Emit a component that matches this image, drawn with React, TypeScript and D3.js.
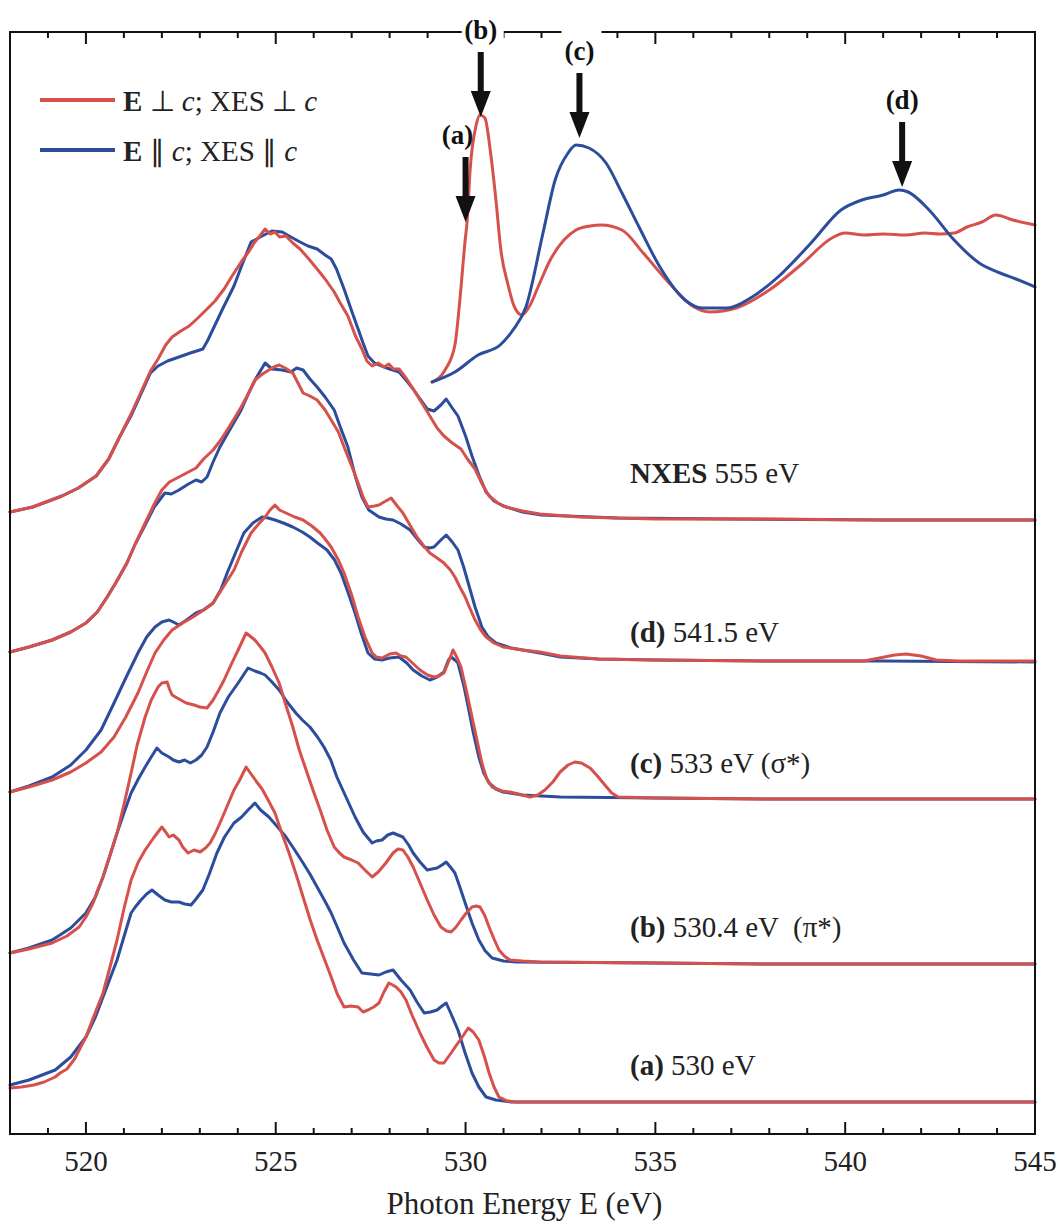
import React from "react";
import * as d3 from "d3";

type Pt = [number, number];

// Photon energy axis (eV)
const xDomain: [number, number] = [518, 545];
const majorTicks = [520, 525, 530, 535, 540, 545];
const minorTicks = d3.range(518, 546, 1);

// Vertical stacking offsets (arb. units) for each spectrum
const offsets = { xas: 749, nxes: 613, d: 472, c: 334, b: 169, a: 32 };

// XAS (absorption) spectra
const xasPerp: Pt[] = [
  [529.12, 3], [529.46, 15], [529.72, 40], [529.85, 85], [529.99, 145], [530.04, 163], [530.12, 215],
  [530.28, 260], [530.38, 270], [530.51, 267], [530.65, 235], [530.8, 185], [530.93, 135], [531.12, 100],
  [531.3, 77], [531.49, 70], [531.7, 80], [531.91, 98], [532.23, 125], [532.59, 145], [532.91, 155],
  [533.28, 159], [533.57, 160], [534.12, 155], [534.68, 132], [535.36, 102], [536.02, 78], [536.44, 73],
  [537.13, 77], [538.0, 95], [538.89, 122], [539.65, 147], [540.0, 152], [540.5, 150], [541.0, 151],
  [541.6, 150], [542.1, 152], [542.5, 151], [542.87, 152], [543.21, 158], [543.6, 163], [543.97, 170],
  [544.42, 165], [545.0, 160],
];
const xasPar: Pt[] = [
  [529.12, 3], [529.72, 13], [530.33, 30], [530.91, 40], [531.25, 55], [531.59, 78], [532.04, 152],
  [532.36, 205], [532.7, 232], [532.91, 240], [533.25, 237], [533.7, 222], [534.12, 192], [534.57, 158],
  [535.12, 118], [535.78, 85], [536.23, 77], [536.89, 77], [537.55, 88], [538.23, 108], [539.1, 142],
  [539.89, 175], [540.44, 185], [541.0, 190], [541.42, 195], [541.66, 193], [542.21, 175], [542.87, 145],
  [543.53, 122], [544.08, 112], [544.5, 106], [545.0, 98],
];

// Non-resonant emission, 555 eV
const nxesPerp: Pt[] = [
  [518.0, 9], [518.6, 14], [519.37, 25], [519.8, 33], [520.27, 45], [520.6, 62], [520.9, 85], [521.2, 108],
  [521.45, 129], [521.7, 150], [521.9, 162], [522.1, 176], [522.27, 184], [522.5, 190], [522.72, 195],
  [522.95, 203], [523.19, 212], [523.4, 220], [523.64, 232], [523.85, 245], [524.09, 259], [524.3, 270],
  [524.45, 279], [524.6, 286], [524.72, 292], [524.85, 287], [524.98, 289], [525.1, 284], [525.27, 285],
  [525.45, 278], [525.64, 272], [525.85, 263], [526.09, 252], [526.3, 242], [526.54, 229], [526.7, 218],
  [526.9, 205], [527.1, 185], [527.27, 172], [527.4, 160], [527.54, 155], [527.7, 158], [527.85, 154],
  [527.98, 157], [528.1, 152], [528.25, 152], [528.45, 142], [528.62, 132], [528.85, 118], [529.06, 105],
  [529.25, 93], [529.43, 85], [529.65, 78], [529.88, 72], [530.05, 62], [530.25, 52], [530.45, 36],
  [530.62, 25], [530.85, 18], [531.07, 14], [531.5, 10], [531.96, 7], [533, 4], [535, 2], [538, 2],
  [541, 1], [545, 1],
];
const nxesPar: Pt[] = [
  [518.0, 9], [518.6, 14], [519.37, 25], [519.8, 33], [520.27, 45], [520.6, 62], [520.9, 85], [521.2, 106],
  [521.45, 127], [521.7, 148], [521.9, 155], [522.15, 160], [522.45, 164], [522.75, 168], [523.08, 172],
  [523.2, 180], [523.35, 192], [523.6, 212], [523.9, 235], [524.1, 255], [524.35, 279], [524.5, 282],
  [524.64, 285], [524.9, 290], [525.17, 289], [525.4, 284], [525.64, 279], [525.85, 275], [526.09, 272],
  [526.3, 266], [526.46, 262], [526.6, 252], [526.8, 232], [527.0, 210], [527.17, 192], [527.3, 178],
  [527.43, 165], [527.6, 158], [527.8, 155], [528.0, 152], [528.25, 149], [528.45, 140], [528.62, 132],
  [528.8, 122], [528.99, 112], [529.17, 110], [529.35, 116], [529.49, 122], [529.65, 113], [529.8, 105],
  [530.0, 85], [530.17, 65], [530.35, 46], [530.54, 29], [530.75, 20], [530.99, 15], [531.5, 9], [532, 6],
  [534, 3], [537, 2], [541, 1], [545, 1],
];

// (d) excitation 541.5 eV
const dPerp: Pt[] = [
  [518.0, 10], [518.5, 15], [519.11, 22], [519.6, 30], [520.0, 39], [520.3, 50], [520.56, 65], [520.8, 80],
  [521.08, 99], [521.3, 118], [521.56, 139], [521.8, 158], [522.0, 172], [522.2, 180], [522.45, 185],
  [522.7, 190], [522.9, 194], [523.1, 203], [523.35, 212], [523.55, 222], [523.72, 232], [523.9, 243],
  [524.09, 255], [524.3, 270], [524.45, 282], [524.65, 288], [524.82, 292], [524.95, 295], [525.09, 297],
  [525.25, 294], [525.45, 289], [525.6, 278], [525.72, 269], [525.9, 266], [526.09, 262], [526.3, 252],
  [526.46, 242], [526.65, 230], [526.8, 215], [527.0, 196], [527.17, 179], [527.3, 165], [527.43, 155],
  [527.6, 156], [527.72, 157], [527.9, 161], [528.04, 164], [528.2, 156], [528.35, 149], [528.55, 136],
  [528.72, 125], [528.9, 116], [529.06, 109], [529.25, 104], [529.43, 99], [529.6, 92], [529.72, 85],
  [529.85, 75], [529.99, 65], [530.1, 55], [530.25, 42], [530.4, 32], [530.54, 25], [530.75, 19],
  [530.99, 15], [531.5, 12], [531.96, 10], [532.5, 6], [533.5, 3], [535, 2], [538, 1], [540.5, 1],
  [540.9, 4], [541.3, 7], [541.6, 8], [542.0, 6], [542.4, 2], [543, 1], [545, 1],
];
const dPar: Pt[] = [
  [518.0, 10], [518.5, 15], [519.11, 22], [519.6, 30], [520.0, 39], [520.3, 50], [520.56, 65], [520.8, 80],
  [521.08, 99], [521.3, 118], [521.56, 137], [521.8, 155], [522.08, 169], [522.25, 168], [522.45, 172],
  [522.7, 178], [522.9, 182], [523.05, 180], [523.19, 185], [523.35, 200], [523.53, 215], [523.8, 233],
  [524.09, 252], [524.3, 270], [524.5, 285], [524.72, 299], [524.9, 293], [525.17, 292], [525.4, 290],
  [525.55, 294], [525.72, 292], [525.9, 283], [526.09, 275], [526.3, 265], [526.54, 252], [526.7, 235],
  [526.9, 215], [527.1, 185], [527.27, 165], [527.45, 152], [527.72, 145], [527.9, 143], [528.09, 142],
  [528.3, 138], [528.54, 132], [528.75, 122], [528.91, 115], [529.05, 114], [529.17, 115], [529.35, 122],
  [529.49, 127], [529.65, 120], [529.8, 112], [529.95, 95], [530.07, 79], [530.25, 55], [530.43, 35],
  [530.6, 25], [530.8, 19], [531.2, 14], [531.96, 9], [532.5, 5], [533.5, 3], [535, 2], [538, 1],
  [541, 1], [545, 0],
];

// (c) excitation 533 eV (sigma*)
const cPerp: Pt[] = [
  [518.0, 8], [518.5, 13], [519.11, 20], [519.6, 28], [520.0, 37], [520.4, 48], [520.74, 63], [521.05, 83],
  [521.37, 107], [521.6, 128], [521.82, 147], [522.05, 160], [522.27, 170], [522.55, 177], [522.82, 183],
  [523.1, 190], [523.35, 197], [523.6, 212], [523.9, 230], [524.1, 248], [524.35, 267], [524.55, 276],
  [524.72, 283], [524.85, 290], [524.98, 295], [525.1, 290], [525.27, 287], [525.5, 283], [525.72, 280],
  [525.95, 274], [526.17, 267], [526.3, 261], [526.46, 253], [526.65, 240], [526.8, 227], [527.0, 205],
  [527.17, 183], [527.35, 163], [527.54, 147], [527.65, 143], [527.8, 142], [528.0, 146], [528.17, 147],
  [528.3, 144], [528.43, 143], [528.6, 137], [528.8, 130], [529.0, 125], [529.17, 123], [529.3, 124],
  [529.43, 127], [529.55, 138], [529.67, 150], [529.78, 142], [529.88, 133], [530.03, 108], [530.17, 83],
  [530.3, 60], [530.43, 37], [530.55, 22], [530.7, 13], [530.95, 9], [531.17, 8], [531.5, 5], [531.7, 3],
  [531.9, 5], [532.09, 10], [532.3, 18], [532.49, 28], [532.7, 35], [532.88, 38], [533.05, 37],
  [533.28, 32], [533.45, 25], [533.67, 15], [533.85, 7], [534.02, 3], [535, 2], [538, 1], [541, 1],
  [545, 1],
];
const cPar: Pt[] = [
  [518.0, 8], [518.5, 14], [519.11, 23], [519.6, 35], [520.0, 50], [520.4, 70], [520.74, 97], [521.05, 122],
  [521.37, 147], [521.6, 163], [521.82, 173], [522.0, 178], [522.19, 180], [522.3, 178], [522.45, 175],
  [522.65, 180], [522.9, 187], [523.1, 190], [523.35, 197], [523.55, 210], [523.72, 227], [523.95, 248],
  [524.16, 267], [524.4, 277], [524.64, 283], [524.8, 282], [524.98, 280], [525.2, 277], [525.45, 273],
  [525.7, 268], [525.9, 263], [526.1, 257], [526.35, 250], [526.55, 240], [526.72, 227], [526.9, 208],
  [527.09, 187], [527.25, 167], [527.43, 147], [527.6, 141], [527.8, 140], [528.0, 142], [528.25, 143],
  [528.45, 137], [528.62, 130], [528.85, 124], [529.06, 120], [529.25, 123], [529.43, 128], [529.55, 140],
  [529.62, 143], [529.72, 140], [529.8, 137], [529.95, 115], [530.07, 93], [530.2, 68], [530.35, 43],
  [530.48, 27], [530.62, 17], [530.8, 11], [530.99, 8], [531.5, 5], [532.5, 3], [535, 2], [538, 1],
  [541, 1], [545, 1],
];

// (b) excitation 530.4 eV (pi*)
const bPerp: Pt[] = [
  [518.0, 12], [518.5, 16], [519.11, 22], [519.5, 29], [519.82, 38], [520.0, 48], [520.19, 62], [520.3, 74],
  [520.45, 88], [520.62, 108], [520.82, 132], [521.0, 160], [521.19, 192], [521.35, 220], [521.56, 248],
  [521.72, 265], [521.9, 278], [522.0, 282], [522.14, 283], [522.2, 276], [522.27, 270], [522.45, 266],
  [522.64, 262], [522.85, 260], [523.0, 258], [523.19, 257], [523.35, 265], [523.5, 275], [523.64, 285],
  [523.82, 300], [524.01, 315], [524.12, 324], [524.22, 332], [524.32, 329], [524.45, 325], [524.6, 318],
  [524.72, 312], [524.9, 298], [525.09, 282], [525.25, 262], [525.45, 238], [525.62, 215], [525.8, 195],
  [525.98, 175], [526.17, 155], [526.35, 135], [526.54, 118], [526.68, 112], [526.8, 108], [527.0, 105],
  [527.17, 102], [527.35, 95], [527.54, 88], [527.7, 93], [527.9, 102], [528.09, 112], [528.22, 116],
  [528.35, 115], [528.48, 108], [528.62, 98], [528.8, 82], [528.99, 65], [529.17, 50], [529.35, 38],
  [529.5, 34], [529.62, 33], [529.75, 38], [529.88, 45], [530.02, 52], [530.17, 58], [530.28, 59],
  [530.38, 58], [530.5, 50], [530.62, 38], [530.75, 26], [530.88, 15], [531.02, 9], [531.17, 5],
  [531.5, 4], [531.96, 3], [535, 2], [538, 1], [541, 1], [545, 1],
];
const bPar: Pt[] = [
  [518.0, 12], [518.5, 17], [519.11, 25], [519.6, 37], [520.0, 52], [520.25, 68], [520.45, 88], [520.62, 108],
  [520.82, 132], [521.0, 152], [521.19, 172], [521.38, 186], [521.56, 198], [521.72, 208], [521.87, 217],
  [522.0, 212], [522.19, 208], [522.3, 205], [522.45, 203], [522.6, 205], [522.75, 202], [522.9, 205],
  [523.05, 210], [523.19, 218], [523.35, 233], [523.53, 252], [523.75, 268], [524.01, 282], [524.15, 290],
  [524.27, 297], [524.45, 294], [524.6, 292], [524.72, 290], [524.9, 283], [525.09, 275], [525.3, 263],
  [525.53, 252], [525.7, 245], [525.9, 238], [526.1, 228], [526.27, 218], [526.45, 205], [526.61, 188],
  [526.85, 168], [527.09, 148], [527.3, 133], [527.54, 122], [527.65, 124], [527.8, 125], [527.95, 130],
  [528.09, 132], [528.22, 130], [528.35, 128], [528.5, 120], [528.62, 112], [528.8, 103], [528.99, 95],
  [529.12, 96], [529.25, 97], [529.38, 100], [529.49, 103], [529.6, 98], [529.72, 92], [529.85, 78],
  [529.99, 62], [530.17, 42], [530.35, 25], [530.52, 14], [530.7, 7], [531.0, 4], [531.33, 3], [535, 2],
  [538, 1], [541, 1], [545, 1],
];

// (a) excitation 530 eV
const aPerp: Pt[] = [
  [518.0, 14], [518.3, 15], [518.63, 17], [518.9, 20], [519.19, 25], [519.32, 29], [519.5, 33], [519.7, 43],
  [520.0, 65], [520.2, 85], [520.45, 109], [520.62, 133], [520.82, 162], [521.0, 193], [521.19, 222],
  [521.38, 240], [521.56, 252], [521.8, 265], [522.0, 275], [522.1, 270], [522.19, 265], [522.3, 267],
  [522.45, 262], [522.55, 255], [522.69, 249], [522.85, 252], [523.01, 250], [523.15, 254], [523.27, 259],
  [523.4, 268], [523.53, 279], [523.7, 294], [523.9, 312], [524.05, 322], [524.22, 335], [524.35, 328],
  [524.5, 320], [524.64, 313], [524.8, 302], [524.98, 289], [525.15, 270], [525.35, 249], [525.55, 226],
  [525.72, 205], [525.9, 183], [526.09, 162], [526.28, 143], [526.46, 125], [526.62, 108], [526.8, 95],
  [526.98, 96], [527.17, 95], [527.3, 90], [527.43, 92], [527.58, 95], [527.72, 99], [527.85, 110],
  [527.98, 119], [528.08, 117], [528.17, 115], [528.3, 110], [528.43, 102], [528.6, 86], [528.8, 69],
  [528.98, 55], [529.17, 42], [529.3, 39], [529.43, 39], [529.6, 48], [529.8, 59], [529.95, 67],
  [530.07, 74], [530.2, 70], [530.35, 62], [530.5, 45], [530.62, 29], [530.75, 15], [530.88, 5],
  [531.1, 1], [531.33, 0], [533, 0], [535, 0], [538, 0], [541, 0], [545, 0],
];
const aPar: Pt[] = [
  [518.0, 17], [518.5, 22], [519.19, 32], [519.6, 45], [520.0, 65], [520.25, 85], [520.45, 105], [520.62, 122],
  [520.82, 142], [521.0, 165], [521.19, 189], [521.3, 195], [521.45, 202], [521.6, 208], [521.74, 212],
  [521.9, 207], [522.08, 202], [522.25, 200], [522.45, 200], [522.6, 198], [522.77, 197], [522.9, 203],
  [523.08, 212], [523.25, 228], [523.45, 249], [523.65, 265], [523.9, 279], [524.1, 285], [524.27, 292],
  [524.35, 295], [524.45, 299], [524.6, 292], [524.82, 285], [525.05, 275], [525.27, 265], [525.5, 252],
  [525.72, 239], [525.9, 228], [526.09, 215], [526.28, 202], [526.46, 189], [526.62, 175], [526.8, 159],
  [527.05, 142], [527.27, 129], [527.5, 128], [527.72, 127], [527.9, 130], [528.09, 132], [528.3, 122],
  [528.54, 112], [528.72, 100], [528.91, 89], [529.08, 90], [529.25, 92], [529.38, 96], [529.49, 99],
  [529.62, 88], [529.8, 72], [529.98, 50], [530.17, 29], [530.35, 15], [530.54, 5], [530.8, 2], [531.2, 0],
  [545, 0],
];

// Spectrum labels (bold part, plain part)
const spectrumLabels: { key: keyof typeof offsets; bold: string; rest: string; lift: number }[] = [
  { key: "nxes", bold: "NXES", rest: " 555 eV", lift: 38 },
  { key: "d", bold: "(d)", rest: " 541.5 eV", lift: 20 },
  { key: "c", bold: "(c)", rest: " 533 eV (\u03c3*)", lift: 27 },
  { key: "b", bold: "(b)", rest: " 530.4 eV \u00a0(\u03c0*)", lift: 28 },
  { key: "a", bold: "(a)", rest: " 530 eV", lift: 27 },
];

// Excitation energies marked on the XAS spectra: label, energy, arrow tip height
const excitationMarks: { label: string; e: number; tip: number; dx: number }[] = [
  { label: "(a)", e: 530.0, tip: 163, dx: -8 },
  { label: "(b)", e: 530.4, tip: 268, dx: 0 },
  { label: "(c)", e: 533.0, tip: 247, dx: 0 },
  { label: "(d)", e: 541.5, tip: 198, dx: 0 },
];

const RED = "#d6514b";
const BLUE = "#2c4c9c";
const FONT = "'Liberation Serif', 'Times New Roman', serif";

export default function App() {
  const W = 1058;
  const H = 1229;
  const left = 10;
  const right = 1035;
  const top = 32;
  const bottom = 1134;

  const x = d3.scaleLinear().domain(xDomain).range([left, right]);
  const y = d3.scaleLinear().domain([0, bottom - top]).range([bottom, top]);

  const mk = (off: number, smooth = false) => {
    const g = d3
      .line<Pt>()
      .x((d) => x(d[0]))
      .y((d) => y(d[1] + off));
    if (smooth) g.curve(d3.curveMonotoneX);
    return g;
  };

  const series: { data: Pt[]; off: number; color: string; smooth?: boolean }[] = [
    { data: aPar, off: offsets.a, color: BLUE },
    { data: aPerp, off: offsets.a, color: RED },
    { data: bPar, off: offsets.b, color: BLUE },
    { data: bPerp, off: offsets.b, color: RED },
    { data: cPar, off: offsets.c, color: BLUE },
    { data: cPerp, off: offsets.c, color: RED },
    { data: dPar, off: offsets.d, color: BLUE },
    { data: dPerp, off: offsets.d, color: RED },
    { data: nxesPar, off: offsets.nxes, color: BLUE },
    { data: nxesPerp, off: offsets.nxes, color: RED },
    { data: xasPerp, off: offsets.xas, color: RED, smooth: true },
    { data: xasPar, off: offsets.xas, color: BLUE, smooth: true },
  ];

  const shaft = 65;
  const head = 26;

  return (
    <svg
      width={W}
      height={H}
      viewBox={`0 0 ${W} ${H}`}
      style={{ position: "absolute", left: 0, top: 0, background: "#fff" }}
      fontFamily={FONT}
    >
      <rect x={0} y={0} width={W} height={H} fill="#fff" />

      {/* spectra */}
      <g fill="none" strokeWidth={3} strokeLinejoin="round" strokeLinecap="round">
        {series.map((s, i) => (
          <path key={i} d={mk(s.off, s.smooth)(s.data) || ""} stroke={s.color} />
        ))}
      </g>

      {/* frame */}
      <rect x={left} y={top} width={right - left} height={bottom - top} fill="none" stroke="#111" strokeWidth={2} />

      {/* ticks, bottom and top, pointing inward */}
      <g stroke="#111" strokeWidth={2}>
        {minorTicks.map((t) => {
          const len = t % 5 === 0 ? 12 : 6;
          return (
            <g key={t}>
              <line x1={x(t)} x2={x(t)} y1={bottom} y2={bottom - len} />
              <line x1={x(t)} x2={x(t)} y1={top} y2={top + len} />
            </g>
          );
        })}
      </g>

      {/* breaks in the top frame */}
      <rect x={x(533.0) - 18} y={top - 4} width={40} height={16} fill="#fff" />
      <rect x={x(530.4) - 19} y={top - 22} width={42} height={36} fill="#fff" />

      {/* tick labels */}
      <g fontSize={29} textAnchor="middle" fill="#222">
        {majorTicks.map((t) => (
          <text key={t} x={x(t)} y={1171}>
            {t}
          </text>
        ))}
      </g>
      <text x={(left + right) / 2 + 2} y={1214} fontSize={31} textAnchor="middle" fill="#222">
        Photon Energy E (eV)
      </text>

      {/* excitation markers */}
      <g fill="#111">
        {excitationMarks.map((m) => {
          const xx = x(m.e);
          const tipY = y(m.tip + offsets.xas);
          const topY = tipY - shaft;
          return (
            <g key={m.label}>
              <rect x={xx - 3} y={topY} width={6} height={shaft - head + 2} />
              <path d={`M${xx - 10},${tipY - head}L${xx + 10},${tipY - head}L${xx},${tipY}Z`} />
              <text x={xx + m.dx} y={topY - 13} fontSize={27} fontWeight="bold" textAnchor="middle">
                {m.label}
              </text>
            </g>
          );
        })}
      </g>

      {/* legend */}
      <g>
        <line x1={40} x2={115} y1={100} y2={100} stroke={RED} strokeWidth={4} />
        <text x={123} y={111} fontSize={29} fill="#222">
          <tspan fontWeight="bold">E</tspan>
          <tspan> {"\u22a5"} </tspan>
          <tspan fontStyle="italic">c</tspan>
          <tspan>; XES {"\u22a5"} </tspan>
          <tspan fontStyle="italic">c</tspan>
        </text>
        <line x1={40} x2={115} y1={150} y2={150} stroke={BLUE} strokeWidth={4} />
        <text x={123} y={161} fontSize={29} fill="#222">
          <tspan fontWeight="bold">E</tspan>
          <tspan> {"\u2225"} </tspan>
          <tspan fontStyle="italic">c</tspan>
          <tspan>; XES {"\u2225"} </tspan>
          <tspan fontStyle="italic">c</tspan>
        </text>
      </g>

      {/* spectrum labels */}
      <g fontSize={29} fill="#222">
        {spectrumLabels.map((l) => (
          <text key={l.key} x={630} y={y(offsets[l.key]) - l.lift} style={{ whiteSpace: "pre" }}>
            <tspan fontWeight="bold">{l.bold}</tspan>
            <tspan>{l.rest}</tspan>
          </text>
        ))}
      </g>
    </svg>
  );
}
